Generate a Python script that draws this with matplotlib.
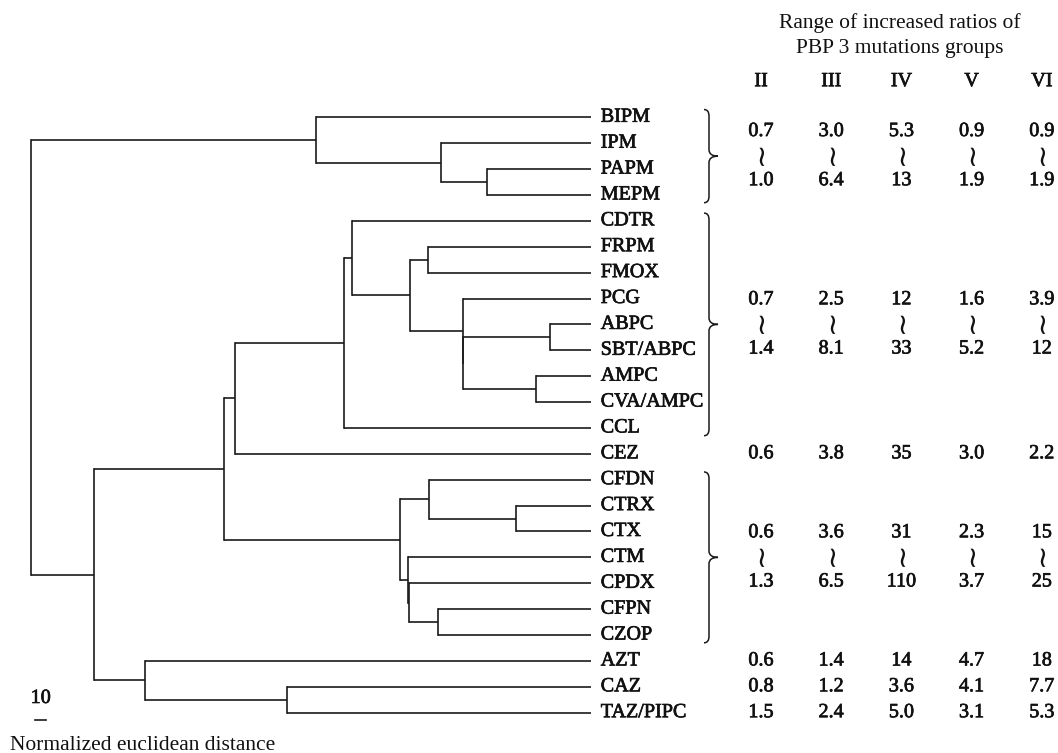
import numpy as np
import matplotlib
matplotlib.use('Agg')
import matplotlib.pyplot as plt
import matplotlib.patheffects as pe
from matplotlib.path import Path
from matplotlib.patches import PathPatch
from matplotlib.transforms import blended_transform_factory

plt.rcParams['font.family'] = ['Liberation Serif', 'DejaVu Serif', 'DejaVu Sans']

# leaves top to bottom
leaves = ['BIPM', 'IPM', 'PAPM', 'MEPM', 'CDTR', 'FRPM', 'FMOX', 'PCG', 'ABPC',
          'SBT/ABPC', 'AMPC', 'CVA/AMPC', 'CCL', 'CEZ', 'CFDN', 'CTRX', 'CTX',
          'CTM', 'CPDX', 'CFPN', 'CZOP', 'AZT', 'CAZ', 'TAZ/PIPC']

# merges: leaf name or index of an earlier merge
merge_pairs = [
    ('PAPM', 'MEPM'),      # 0
    ('IPM', 0),            # 1
    ('BIPM', 1),           # 2
    ('FRPM', 'FMOX'),      # 3
    ('ABPC', 'SBT/ABPC'),  # 4
    ('AMPC', 'CVA/AMPC'),  # 5
    (4, 5),                # 6
    ('PCG', 6),            # 7
    (3, 7),                # 8
    ('CDTR', 8),           # 9
    (9, 'CCL'),            # 10
    (10, 'CEZ'),           # 11
    ('CTRX', 'CTX'),       # 12
    ('CFDN', 12),          # 13
    ('CFPN', 'CZOP'),      # 14
    ('CPDX', 14),          # 15
    ('CTM', 15),           # 16
    (13, 16),              # 17
    (11, 17),              # 18
    ('CAZ', 'TAZ/PIPC'),   # 19
    ('AZT', 19),           # 20
    (18, 20),              # 21
    (2, 21),               # 22
]
merge_heights = [90, 130, 239, 141.5, 35.7, 47.4, 111.3, 111.7, 157.4, 207.5,
                 215.2, 309.9, 65.2, 140.9, 132.8, 158.4, 158.8, 166.1, 318.9,
                 264.3, 387.5, 432.5, 486.6]

# table
groups = ['II', 'III', 'IV', 'V', 'VI']
range_first = ['BIPM', 'CDTR', 'CFDN']
range_last = ['MEPM', 'CCL', 'CZOP']
range_low = [['0.7', '3.0', '5.3', '0.9', '0.9'],
             ['0.7', '2.5', '12', '1.6', '3.9'],
             ['0.6', '3.6', '31', '2.3', '15']]
range_high = [['1.0', '6.4', '13', '1.9', '1.9'],
              ['1.4', '8.1', '33', '5.2', '12'],
              ['1.3', '6.5', '110', '3.7', '25']]
single_names = ['CEZ', 'AZT', 'CAZ', 'TAZ/PIPC']
single_vals = [['0.6', '3.8', '35', '3.0', '2.2'],
               ['0.6', '1.4', '14', '4.7', '18'],
               ['0.8', '1.2', '3.6', '4.1', '7.7'],
               ['1.5', '2.4', '5.0', '3.1', '5.3']]

W, H = 1058, 753
fig = plt.figure(figsize=(W / 100, H / 100), dpi=100)

# dendrogram axes, pixel box of the tree
x_root_px, x_leaf_px = 31.4, 591
y_top_px, y_bot_px = 117.3, 712.7
ax = fig.add_axes([x_root_px / W, 1 - y_bot_px / H,
                   (x_leaf_px - x_root_px) / W, (y_bot_px - y_top_px) / H])
ax.set_xlim(max(merge_heights), 0)
ax.set_ylim(len(leaves) - 1, 0)
ax.axis('off')

# overlay in pixel units for table / braces
tx = fig.add_axes([0, 0, 1, 1])
tx.set_xlim(0, W)
tx.set_ylim(H, 0)
tx.axis('off')
trow = blended_transform_factory(tx.transData, ax.transData)

lc = '#1a1a1a'
tc = '#111111'
lw = 1.2
heavy = [pe.withStroke(linewidth=0.5, foreground=tc)]

pos = {}
for i, name in enumerate(leaves):
    pos[name] = (i, 0.0)

for k, (a, b) in enumerate(merge_pairs):
    h = merge_heights[k]
    ya, ha = pos[a]
    yb, hb = pos[b]
    ax.plot([ha, h], [ya, ya], color=lc, lw=lw, clip_on=False, solid_capstyle='butt')
    ax.plot([hb, h], [yb, yb], color=lc, lw=lw, clip_on=False, solid_capstyle='butt')
    ax.plot([h, h], [ya, yb], color=lc, lw=lw, clip_on=False, solid_capstyle='projecting')
    pos[k] = ((ya + yb) / 2, h)

fs = 14.5
for i, name in enumerate(leaves):
    ax.annotate(name, (0, i), xytext=(7, 0), textcoords='offset points',
                va='center', ha='left', fontsize=fs, color=tc, path_effects=heavy)

# scale bar
ax.plot([483.5, 473.5], [23.3, 23.3], color=lc, lw=lw, clip_on=False)
ax.text(478.5, 22.45, '10', ha='center', va='center', fontsize=fs, color=tc,
        path_effects=heavy)
fig.text(10 / W, 1 - 745 / H, 'Normalized euclidean distance', ha='left', va='center',
         fontsize=15.5, color=tc)

# table headers
tx.text(900, 23.5, 'Range of increased ratios of', ha='center', va='center',
        fontsize=15.5, color=tc)
tx.text(900, 48.5, 'PBP 3 mutations groups', ha='center', va='center',
        fontsize=15.5, color=tc)
col_x = 761 + 70.2 * np.arange(len(groups))
for cx, g in zip(col_x, groups):
    tx.text(cx, 81.7, g, ha='center', va='center', fontsize=fs, color=tc,
            path_effects=heavy)


def brace(y0, y1, x0=709, hook=5, tip=9, r=0.25):
    ym = (y0 + y1) / 2
    verts = [(x0 - hook, y0), (x0, y0), (x0, y0 + r),
             (x0, ym - r),
             (x0, ym), (x0 + tip, ym),
             (x0, ym), (x0, ym + r),
             (x0, y1 - r),
             (x0, y1), (x0 - hook, y1)]
    codes = [Path.MOVETO, Path.CURVE3, Path.CURVE3,
             Path.LINETO,
             Path.CURVE3, Path.CURVE3,
             Path.CURVE3, Path.CURVE3,
             Path.LINETO,
             Path.CURVE3, Path.CURVE3]
    tx.add_patch(PathPatch(Path(verts, codes), transform=trow, fill=False,
                           edgecolor=lc, lw=1.1))


for gi in range(len(range_first)):
    i0 = leaves.index(range_first[gi])
    i1 = leaves.index(range_last[gi])
    brace(i0 - 0.3, i1 + 0.3)
    yc = (i0 + i1) / 2
    for j, cx in enumerate(col_x):
        tx.text(cx, yc - 0.95, range_low[gi][j], transform=trow, ha='center',
                va='center', fontsize=fs, color=tc, path_effects=heavy)
        # vertical wave dash between low and high
        tx.text(cx, yc - 0.12, '\u223c', transform=trow, ha='center', va='center',
                rotation=90, fontsize=21, color=tc, family=['DejaVu Sans'])
        tx.text(cx, yc + 0.95, range_high[gi][j], transform=trow, ha='center',
                va='center', fontsize=fs, color=tc, path_effects=heavy)

for name, vals in zip(single_names, single_vals):
    i = leaves.index(name)
    for j, cx in enumerate(col_x):
        tx.text(cx, i, vals[j], transform=trow, ha='center', va='center',
                fontsize=fs, color=tc, path_effects=heavy)

fig.savefig('out.png', dpi=100)
